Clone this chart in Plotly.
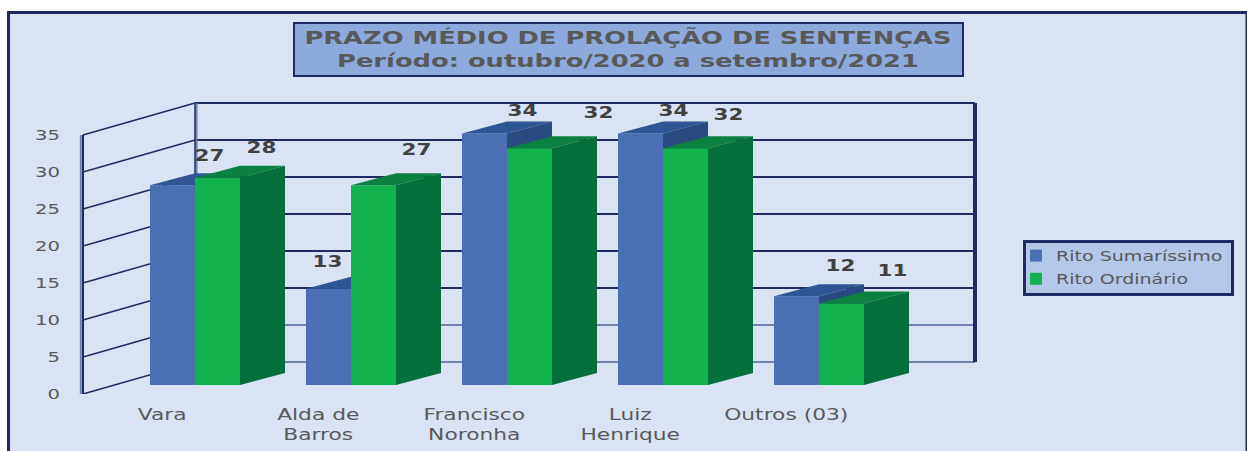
import plotly.graph_objects as go

CATEGORIES = ["Vara", "Alda de<br>Barros", "Francisco<br>Noronha", "Luiz<br>Henrique", "Outros (03)"]
SUMARISSIMO = [27, 13, 34, 34, 12]
ORDINARIO = [28, 27, 32, 32, 11]
Y_TICKS = [0, 5, 10, 15, 20, 25, 30, 35]
TITLE = "PRAZO MÉDIO DE PROLAÇÃO DE SENTENÇAS<br>Período: outubro/2020 a setembro/2021"

# Geometry of the fake-3D look (axis units)
W, H = 1247, 451
PX_X, PX_Y = 156.0, 7.4            # pixels per category / per value
ML, MB = 70, 57
ORIGIN_X = 195                     # pixel of the back wall's left edge (x = 0)
BAR_W = 45 / PX_X
DEPTH_X, DEPTH_Y = 45 / PX_X, 12 / PX_Y
BASE = 9 / PX_Y
WALL_X, WALL_Y = 112 / PX_X, 32 / PX_Y
X_RANGE = [(ML - ORIGIN_X) / PX_X, (W - ORIGIN_X) / PX_X]
Y_RANGE = [0, (H - MB) / PX_Y]
WALL_RIGHT = 5.0

# Style: data-label nudges in pixels, from bar centre / bar top
LBL_DX_BLUE = [37, -1, 38, 33, 44]
LBL_DX_GREEN = [44, 43, 69, 43, 51]
LBL_DY_BLUE = [28, 26, 21, 21, 29]
LBL_DY_GREEN = [29, 34, 34, 32, 31]

NAVY = "#1F2A63"
LIGHT = "#6E82AE"
BG = "#D9E3F3"
TXT = "#595959"
FONT = "DejaVu Sans"

BLUE, BLUE_TOP, BLUE_SIDE = "#4A6FB5", "#2F5597", "#2A4A82"
GREEN, GREEN_TOP, GREEN_SIDE = "#12B24F", "#0B8040", "#05703B"

fig = go.Figure()


def line(xs, ys, color=NAVY, width=1.5):
    fig.add_trace(go.Scatter(x=xs, y=ys, mode="lines", line=dict(color=color, width=width),
                             showlegend=False, hoverinfo="skip"))


# Walls and gridlines, behind everything (base subplot)
for k in Y_TICKS:
    c = LIGHT if k <= 5 else NAVY
    line([-WALL_X, 0], [k, k + WALL_Y], NAVY, 1.5)
    line([0, WALL_RIGHT], [k + WALL_Y, k + WALL_Y], c, 1.8)
line([-WALL_X - 0.014, -WALL_X - 0.014], [Y_TICKS[0], Y_TICKS[-1]], LIGHT, 2)
line([-WALL_X, -WALL_X], [Y_TICKS[0], Y_TICKS[-1]], NAVY, 2)
line([0.01, 0.01], [Y_TICKS[0] + WALL_Y, Y_TICKS[-1] + WALL_Y], LIGHT, 2)
line([0, 0], [Y_TICKS[0] + WALL_Y, Y_TICKS[-1] + WALL_Y], NAVY, 1.5)
line([WALL_RIGHT, WALL_RIGHT], [Y_TICKS[0] + WALL_Y, Y_TICKS[-1] + WALL_Y], NAVY, 4)


def faces(values, left_of_center, front, top, side, xa, ya, name, lg):
    xc = [i + left_of_center for i in range(len(values))]
    tx, ty, sx, sy = [], [], [], []
    for c, v in zip(xc, values):
        l, r, t = c - BAR_W / 2, c + BAR_W / 2, v + BASE
        tx += [l, r, r + DEPTH_X, l + DEPTH_X, l, None]
        ty += [t, t, t + DEPTH_Y, t + DEPTH_Y, t, None]
        sx += [r, r + DEPTH_X, r + DEPTH_X, r, r, None]
        sy += [BASE, BASE + DEPTH_Y, t + DEPTH_Y, t, BASE, None]
    for px_, py_, col in ((tx, ty, top), (sx, sy, side)):
        fig.add_trace(go.Scatter(x=px_, y=py_, mode="lines", fill="toself", fillcolor=col,
                                 line=dict(width=0, color=col), showlegend=False, hoverinfo="skip",
                                 xaxis=xa, yaxis=ya))
    fig.add_trace(go.Bar(x=xc, y=values, base=BASE, width=BAR_W, name=name,
                         marker=dict(color=front, line=dict(width=0)),
                         xaxis=xa, yaxis=ya, legendgroup=lg))
    return xc


xb = faces(SUMARISSIMO, -BAR_W / 2, BLUE, BLUE_TOP, BLUE_SIDE, "x2", "y2", "Rito Sumaríssimo", "a")
xg = faces(ORDINARIO, BAR_W / 2, GREEN, GREEN_TOP, GREEN_SIDE, "x3", "y3", "Rito Ordinário", "b")

# Data labels
lx = [x + d / PX_X for x, d in zip(xb, LBL_DX_BLUE)] + [x + d / PX_X for x, d in zip(xg, LBL_DX_GREEN)]
ly = [v + BASE + d / PX_Y for v, d in zip(SUMARISSIMO, LBL_DY_BLUE)] + \
     [v + BASE + d / PX_Y for v, d in zip(ORDINARIO, LBL_DY_GREEN)]
lt = [str(v) for v in SUMARISSIMO + ORDINARIO]
fig.add_trace(go.Scatter(x=lx, y=ly, text=lt, mode="text", textposition="middle center",
                         textfont=dict(family=FONT, size=15, color="#404040", weight="bold"),
                         showlegend=False, hoverinfo="skip", xaxis="x3", yaxis="y3"))

px = lambda p: (p - ML) / (W - ML)
py = lambda p: (H - MB - p) / (H - MB)

hidden = dict(visible=False, fixedrange=True)
fig.update_layout(
    width=W, height=H, autosize=False,
    margin=dict(l=ML, r=0, t=0, b=MB, pad=0),
    paper_bgcolor="white", plot_bgcolor="rgba(0,0,0,0)",
    barmode="overlay", hovermode=False,
    title=dict(text=TITLE, x=628 / W, xanchor="center", y=1 - 44 / H, yanchor="middle",
               font=dict(family=FONT, size=18, color=TXT, weight="bold")),
    xaxis=dict(range=X_RANGE, tickmode="array", tickvals=[i - 0.21 for i in range(len(CATEGORIES))],
               ticktext=CATEGORIES, showgrid=False, zeroline=False, showline=False, ticks="",
               ticklabelstandoff=10, tickangle=0,
               tickfont=dict(family=FONT, size=15, color=TXT)),
    yaxis=dict(range=Y_RANGE, tickmode="array", tickvals=Y_TICKS, showgrid=False, zeroline=False,
               showline=False, ticks="", ticklabelstandoff=9,
               tickfont=dict(family=FONT, size=14, color=TXT)),
    xaxis2=dict(range=X_RANGE, overlaying="x", **hidden),
    yaxis2=dict(range=Y_RANGE, overlaying="y", **hidden),
    xaxis3=dict(range=X_RANGE, overlaying="x", **hidden),
    yaxis3=dict(range=Y_RANGE, overlaying="y", **hidden),
    legend=dict(x=px(1023), y=py(237), xanchor="left", yanchor="top", bgcolor="#B4C7E7",
                bordercolor=NAVY, borderwidth=3, traceorder="grouped", tracegroupgap=2,
                itemwidth=30, indentation=-10,
                font=dict(family=FONT, size=14, color=TXT)),
    shapes=[
        dict(type="rect", xref="paper", yref="paper", x0=px(8.5), x1=px(1247), y0=py(470), y1=py(12.5),
             fillcolor=BG, line=dict(color=NAVY, width=3), layer="below"),
        dict(type="rect", xref="paper", yref="paper", x0=px(294), x1=px(963), y0=py(76), y1=py(23),
             fillcolor="#8EA9DB", line=dict(color=NAVY, width=2), layer="below"),
    ],
)

# The reference's text is horizontally stretched: widen the glyphs of each real text line,
# and size the legend box to hold the wider text.
post = """
document.body.style.margin='0';document.body.style.overflow='hidden';
function stretch(){
  [['.gtitle',1.43],['.xtick text',1.45],['.ytick text',1.4],['.legendtext',1.36],['.textpoint text',1.43]].forEach(function(p){
    document.querySelectorAll(p[0]).forEach(function(t){
      var lines=t.querySelectorAll('tspan.line');
      (lines.length?lines:[t]).forEach(function(el){
        if(el.getAttribute('textLength'))return;
        var w=el.getComputedTextLength();
        if(w>0){el.setAttribute('lengthAdjust','spacingAndGlyphs');el.setAttribute('textLength',w*p[1]);}
      });
    });
  });
  document.querySelectorAll('.legend rect.bg').forEach(function(r){
    if(r.dataset.sized)return;
    r.dataset.sized='1';
    r.setAttribute('width',208);
    r.setAttribute('y',parseFloat(r.getAttribute('y')||0)+3);
    r.setAttribute('height',53);
  });
  document.querySelectorAll('clipPath[id^="legend"] rect').forEach(function(r){r.setAttribute('width',208);});
}
stretch();setTimeout(stretch,50);setTimeout(stretch,300);
"""
fig.write_html("out.html", config=dict(displayModeBar=False), post_script=post)
